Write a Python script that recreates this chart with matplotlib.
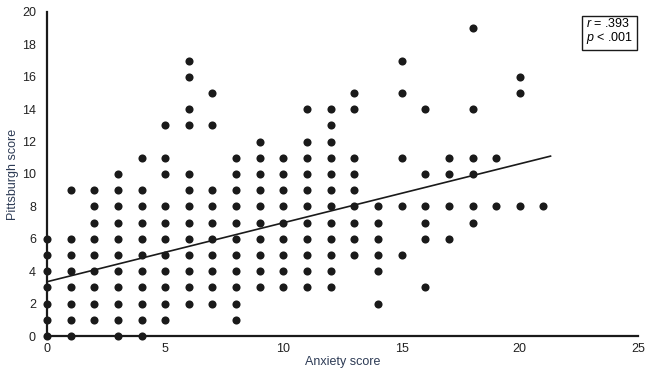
import matplotlib
matplotlib.use("Agg")
import matplotlib.pyplot as plt
import numpy as np

plt.rcParams['font.family'] = ['Liberation Sans', 'DejaVu Sans']
plt.rcParams['mathtext.fontset'] = 'custom'
plt.rcParams['mathtext.rm'] = 'Liberation Sans'
plt.rcParams['mathtext.it'] = 'Liberation Sans:italic'

# Visible dots, grouped by anxiety score (x) -> pittsburgh scores (y)
pittsburgh_by_anxiety = {
    0: [0, 1, 2, 3, 4, 5, 6],
    1: [0, 1, 2, 3, 4, 5, 6, 9],
    2: [1, 2, 3, 4, 5, 6, 7, 8, 9],
    3: [0, 1, 2, 3, 4, 5, 6, 7, 8, 9, 10],
    4: [0, 1, 2, 3, 4, 5, 6, 7, 8, 9, 11],
    5: [1, 2, 3, 4, 5, 6, 7, 8, 10, 11, 13],
    6: [2, 3, 4, 5, 6, 7, 8, 9, 10, 13, 14, 16, 17],
    7: [2, 3, 4, 5, 6, 7, 8, 9, 13, 15],
    8: [1, 2, 3, 4, 5, 6, 7, 8, 9, 10, 11],
    9: [3, 4, 5, 6, 7, 8, 9, 10, 11, 12],
    10: [3, 4, 5, 6, 7, 8, 9, 10, 11],
    11: [3, 4, 5, 6, 7, 8, 9, 10, 11, 12, 14],
    12: [3, 4, 5, 6, 7, 8, 9, 10, 11, 12, 13, 14],
    13: [5, 6, 7, 8, 9, 10, 11, 14, 15],
    14: [2, 4, 5, 6, 7, 8],
    15: [5, 8, 11, 15, 17],
    16: [3, 6, 7, 8, 10, 14],
    17: [6, 8, 10, 11],
    18: [7, 8, 10, 11, 14, 19],
    19: [8, 11],
    20: [8, 15, 16],
    21: [8],
}

anxiety = []
pittsburgh = []
for a, ys in pittsburgh_by_anxiety.items():
    for p in ys:
        anxiety.append(a)
        pittsburgh.append(p)

# Fit line as drawn in the reference
fit_intercept = 3.35
fit_slope = 0.364
fit_range = [0, 21.3]

fig = plt.figure(figsize=(6.52, 3.71), dpi=100)
ax = fig.add_axes([0.0721, 0.0943, 0.9064, 0.8734])

ax.scatter(anxiety, pittsburgh, s=34, color='#1a1a1a', zorder=3, clip_on=False, linewidths=0)

fx = np.array(fit_range)
ax.plot(fx, fit_intercept + fit_slope * fx, color='#1a1a1a', linewidth=1.2, zorder=2)

ax.set_xlim(0, 25)
ax.set_ylim(0, 20)
ax.set_xticks([0, 5, 10, 15, 20, 25])
ax.set_yticks(range(0, 21, 2))

for side in ['top', 'right']:
    ax.spines[side].set_visible(False)
for side in ['left', 'bottom']:
    ax.spines[side].set_linewidth(1.6)
    ax.spines[side].set_color('#1a1a1a')

ax.tick_params(length=0, labelsize=9, labelcolor='#222222')
ax.tick_params(axis='y', pad=8)
ax.tick_params(axis='x', pad=5)

ax.set_xlabel('Anxiety score', fontsize=9, color='#2d3b55', labelpad=1)
ax.set_ylabel('Pittsburgh score', fontsize=9, color='#2d3b55', labelpad=2)

ax.text(0.992, 0.983, '$r$ = .393\n$p$ < .001', transform=ax.transAxes,
        ha='right', va='top', multialignment='left', fontsize=9, linespacing=1.0,
        bbox=dict(boxstyle='square,pad=0.3', facecolor='white', edgecolor='#1a1a1a', linewidth=1.0))

fig.savefig('out.png', dpi=100)
